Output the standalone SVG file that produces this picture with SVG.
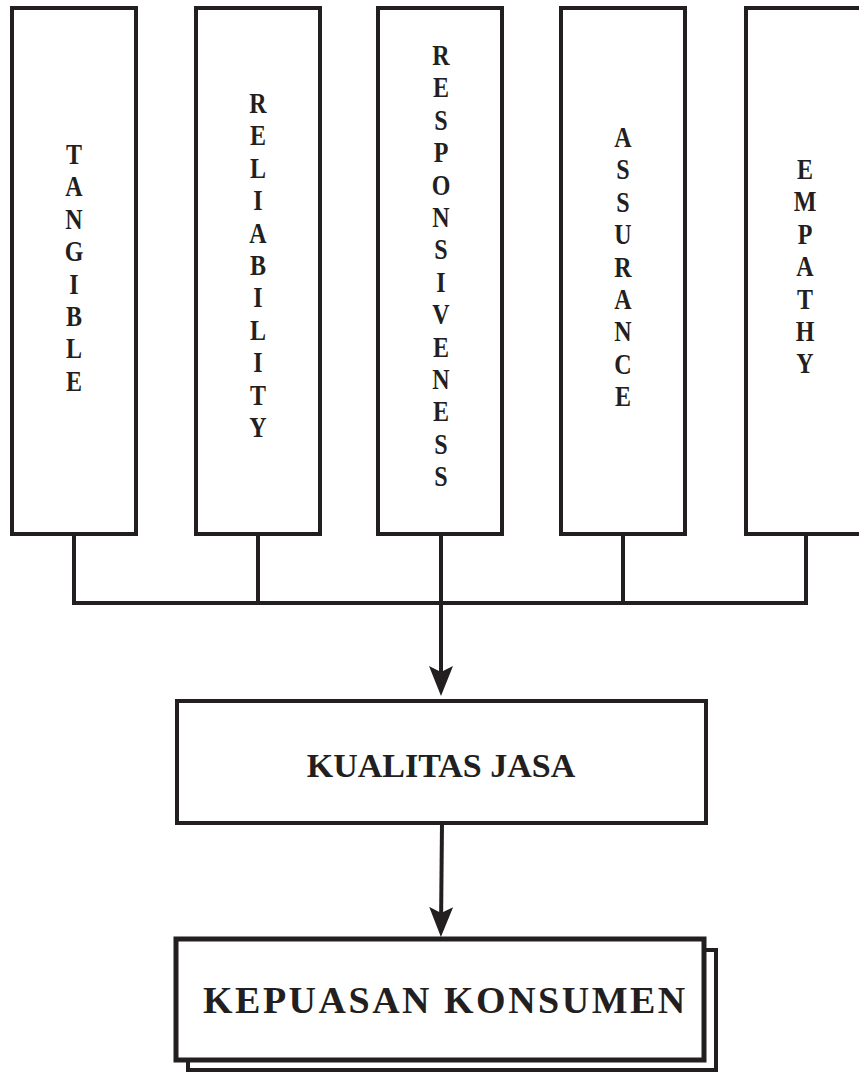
<svg xmlns="http://www.w3.org/2000/svg" width="859" height="1072" viewBox="0 0 859 1072">
<style>
.box{fill:#fff;stroke:#231f20;stroke-width:4}
.conn{fill:none;stroke:#231f20;stroke-width:4}
.vt{font-family:"Liberation Serif","Times New Roman",serif;font-weight:bold;font-size:30px;fill:#231f20;text-anchor:middle}
.lbl{font-family:"Liberation Serif","Times New Roman",serif;font-weight:bold;fill:#231f20}
</style>
<defs>
<marker id="ah" viewBox="0 0 30 24" refX="20" refY="12" markerWidth="30" markerHeight="24" markerUnits="userSpaceOnUse" orient="auto">
<path d="M0,0 L30,12 L0,24 L6,12 Z" fill="#231f20"/>
</marker>
</defs>
<rect width="859" height="1072" fill="#fff"/>
<g id="connectors">
<path class="conn" d="M74,534 V603 M258,534 V603 M623,534 V603 M806,534 V603 M72,603 H808"/>
<path class="conn" d="M441,534 V686" marker-end="url(#ah)"/>
<path class="conn" d="M442,823 L441,927" marker-end="url(#ah)"/>
</g>
<g id="tangible">
<rect class="box" x="12" y="8" width="124" height="526"/>
<text class="vt" transform="matrix(0.8 0 0 1 74 0)"><tspan x="0" y="164">T</tspan><tspan x="0" dy="32.4">A</tspan><tspan x="0" dy="32.4">N</tspan><tspan x="0" dy="32.4">G</tspan><tspan x="0" dy="32.4">I</tspan><tspan x="0" dy="32.4">B</tspan><tspan x="0" dy="32.4">L</tspan><tspan x="0" dy="32.4">E</tspan></text>
</g>
<g id="reliability">
<rect class="box" x="196" y="8" width="124" height="526"/>
<text class="vt" transform="matrix(0.8 0 0 1 258 0)"><tspan x="0" y="113">R</tspan><tspan x="0" dy="32.4">E</tspan><tspan x="0" dy="32.4">L</tspan><tspan x="0" dy="32.4">I</tspan><tspan x="0" dy="32.4">A</tspan><tspan x="0" dy="32.4">B</tspan><tspan x="0" dy="32.4">I</tspan><tspan x="0" dy="32.4">L</tspan><tspan x="0" dy="32.4">I</tspan><tspan x="0" dy="32.4">T</tspan><tspan x="0" dy="32.4">Y</tspan></text>
</g>
<g id="responsiveness">
<rect class="box" x="378" y="8" width="124" height="526"/>
<text class="vt" transform="matrix(0.8 0 0 1 441 0)"><tspan x="0" y="65">R</tspan><tspan x="0" dy="32.4">E</tspan><tspan x="0" dy="32.4">S</tspan><tspan x="0" dy="32.4">P</tspan><tspan x="0" dy="32.4">O</tspan><tspan x="0" dy="32.4">N</tspan><tspan x="0" dy="32.4">S</tspan><tspan x="0" dy="32.4">I</tspan><tspan x="0" dy="32.4">V</tspan><tspan x="0" dy="32.4">E</tspan><tspan x="0" dy="32.4">N</tspan><tspan x="0" dy="32.4">E</tspan><tspan x="0" dy="32.4">S</tspan><tspan x="0" dy="32.4">S</tspan></text>
</g>
<g id="assurance">
<rect class="box" x="561" y="8" width="124" height="526"/>
<text class="vt" transform="matrix(0.8 0 0 1 623 0)"><tspan x="0" y="147">A</tspan><tspan x="0" dy="32.4">S</tspan><tspan x="0" dy="32.4">S</tspan><tspan x="0" dy="32.4">U</tspan><tspan x="0" dy="32.4">R</tspan><tspan x="0" dy="32.4">A</tspan><tspan x="0" dy="32.4">N</tspan><tspan x="0" dy="32.4">C</tspan><tspan x="0" dy="32.4">E</tspan></text>
</g>
<g id="empathy">
<rect class="box" x="746" y="8" width="130" height="526"/>
<text class="vt" transform="matrix(0.8 0 0 1 805 0)"><tspan x="0" y="179">E</tspan><tspan x="0" dy="32.4">M</tspan><tspan x="0" dy="32.4">P</tspan><tspan x="0" dy="32.4">A</tspan><tspan x="0" dy="32.4">T</tspan><tspan x="0" dy="32.4">H</tspan><tspan x="0" dy="32.4">Y</tspan></text>
</g>
<g id="kualitas-jasa">
<rect class="box" x="177" y="701" width="529" height="122"/>
<text class="lbl" x="441" y="777" font-size="34" text-anchor="middle">KUALITAS JASA</text>
</g>
<g id="kepuasan-konsumen">
<rect x="188" y="950" width="528" height="120" fill="#fff" stroke="#231f20" stroke-width="4"/>
<rect x="176" y="939" width="528" height="121" fill="#fff" stroke="#231f20" stroke-width="5"/>
<text class="lbl" x="203" y="1013" font-size="38" letter-spacing="2.5">KEPUASAN KONSUMEN</text>
</g>
</svg>
